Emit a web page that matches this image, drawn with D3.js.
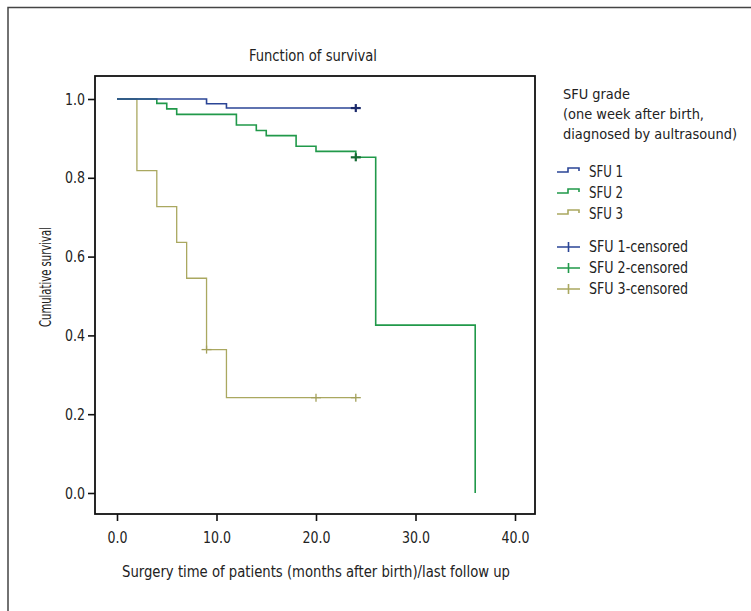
<!DOCTYPE html>
<html>
<head>
<meta charset="utf-8">
<script src="https://cdn.jsdelivr.net/npm/d3@7"></script>
<style>
  body { margin: 0; background: #fff; }
  svg text { font-family: "DejaVu Sans Condensed", "Liberation Sans Narrow", sans-serif; fill: #222; }
  .tick text { font-size: 16px; }
  .tick line { stroke: #111; stroke-width: 1.6; }
</style>
</head>
<body>
<svg id="chart" width="751" height="611"></svg>
<script>
// Kaplan-Meier steps: time (months) and cumulative survival after each step
const SFU1_T = [0, 9, 11, 24];
const SFU1_S = [1.0, 0.988, 0.977, 0.977];
const SFU2_T = [0, 4, 5, 6, 12, 14, 15, 18, 20, 24, 26, 36];
const SFU2_S = [1.0, 0.989, 0.975, 0.961, 0.934, 0.920, 0.907, 0.880, 0.867, 0.852, 0.426, 0.0];
const SFU3_T = [0, 2, 4, 6, 7, 9, 11, 24];
const SFU3_S = [1.0, 0.818, 0.727, 0.636, 0.545, 0.364, 0.242, 0.242];

// censored observations
const SFU1_CENS = [[24, 0.977]];
const SFU2_CENS = [[24, 0.852]];
const SFU3_CENS = [[9, 0.364], [20, 0.242], [24, 0.242]];

const X_TICKS = [0, 10, 20, 30, 40];
const Y_TICKS = [0, 0.2, 0.4, 0.6, 0.8, 1.0];

const GROUPS = ["SFU 1", "SFU 2", "SFU 3"];
const LINE_COLORS = ["#2b4596", "#21994a", "#aaa860"];
const CENS_COLORS = ["#1b2a6b", "#146a32", "#a3a05a"];

const BOX = {left: 95, top: 76, right: 535, bottom: 514};

let svg = d3.select("#chart");

let x = d3.scaleLinear().domain([0, 40]).range([117, 515]);
let y = d3.scaleLinear().domain([0, 1]).range([493, 99]);

// the original uses a tall condensed face: squeeze glyphs to the measured widths
const squeeze = (sel, w) => sel.attr("textLength", w).attr("lengthAdjust", "spacingAndGlyphs");

// outer frame (cropped figure border)
svg.append("path")
   .attr("d", "M8,611 V7.5 H751")
   .attr("fill", "none")
   .attr("stroke", "#444")
   .attr("stroke-width", 1.5);

// plot box
svg.append("rect")
   .attr("x", BOX.left)
   .attr("y", BOX.top)
   .attr("width", BOX.right - BOX.left)
   .attr("height", BOX.bottom - BOX.top)
   .attr("fill", "none")
   .attr("stroke", "#111")
   .attr("stroke-width", 1.8);

// axes
let yAxis = svg.append("g")
   .attr("transform", `translate(${BOX.left},0)`)
   .call(d3.axisLeft(y).tickValues(Y_TICKS).tickSize(7).tickPadding(3).tickFormat(d3.format(".1f")));
yAxis.select(".domain").remove();
yAxis.selectAll(".tick text").each(function() { squeeze(d3.select(this), 20); });

let xAxis = svg.append("g")
   .attr("transform", `translate(0,${BOX.bottom})`)
   .call(d3.axisBottom(x).tickValues(X_TICKS).tickSize(7).tickPadding(11).tickFormat(d3.format(".1f")));
xAxis.select(".domain").remove();
xAxis.selectAll(".tick text").each(function(d) { squeeze(d3.select(this), d == 0 ? 20 : 28); });

// titles
svg.append("text")
   .attr("x", 313).attr("y", 61)
   .attr("text-anchor", "middle")
   .style("font-size", "16px")
   .call(squeeze, 128)
   .text("Function of survival");

svg.append("text")
   .attr("x", 316).attr("y", 577)
   .attr("text-anchor", "middle")
   .style("font-size", "16px")
   .call(squeeze, 388)
   .text("Surgery time of patients (months after birth)/last follow up");

svg.append("text")
   .attr("transform", "translate(51,277) rotate(-90)")
   .attr("text-anchor", "middle")
   .style("font-size", "15px")
   .call(squeeze, 100)
   .text("Cumulative survival");

// survival curves
const stepLine = d3.line()
   .x(d => x(d[0]))
   .y(d => y(d[1]))
   .curve(d3.curveStepAfter);

const SERIES = [
  {t: SFU1_T, s: SFU1_S, cens: SFU1_CENS, width: 1.6},
  {t: SFU2_T, s: SFU2_S, cens: SFU2_CENS, width: 1.6},
  {t: SFU3_T, s: SFU3_S, cens: SFU3_CENS, width: 1.3}
];

// draw SFU3 first, then SFU2, then SFU1 on top
[2, 1, 0].forEach(i => {
  let ser = SERIES[i];
  let pts = ser.t.map((t, j) => [t, ser.s[j]]);
  svg.append("path")
     .attr("d", stepLine(pts))
     .attr("fill", "none")
     .attr("stroke", LINE_COLORS[i])
     .attr("stroke-width", ser.width);
});

[2, 1, 0].forEach(i => {
  let ser = SERIES[i];
  let g = svg.append("g")
             .attr("stroke", CENS_COLORS[i])
             .attr("stroke-width", i == 2 ? 1.3 : 2.2);
  ser.cens.forEach(c => {
    let cx = x(c[0]), cy = y(c[1]);
    g.append("line").attr("x1", cx - 5).attr("x2", cx + 5).attr("y1", cy).attr("y2", cy);
    g.append("line").attr("x1", cx).attr("x2", cx).attr("y1", cy - 4).attr("y2", cy + 4);
  });
});

// legend
const LEG_X = 557;
const LEG_TEXT_X = 589;
const legendHead = ["SFU grade", "(one week after birth,", "diagnosed by aultrasound)"];
const legendHeadW = [67, 141, 174];

svg.append("g").selectAll("text")
   .data(legendHead).enter()
   .append("text")
   .attr("x", 563)
   .attr("y", (d, i) => 99 + i * 20)
   .style("font-size", "14.3px")
   .attr("textLength", (d, i) => legendHeadW[i])
   .attr("lengthAdjust", "spacingAndGlyphs")
   .text(d => d);

let lineItems = svg.append("g").selectAll("g")
   .data(GROUPS).enter()
   .append("g")
   .attr("transform", (d, i) => `translate(0,${177 + i * 21})`);

lineItems.append("path")
   .attr("d", `M${LEG_X},-5 H${LEG_X + 11} V-9 H${LEG_X + 22} V-6`)
   .attr("fill", "none")
   .attr("stroke", (d, i) => LINE_COLORS[i])
   .attr("stroke-width", 1.6);

lineItems.append("text")
   .attr("x", LEG_TEXT_X)
   .attr("y", 0)
   .style("font-size", "16px")
   .call(squeeze, 34)
   .text(d => d);

let censItems = svg.append("g").selectAll("g")
   .data(GROUPS).enter()
   .append("g")
   .attr("transform", (d, i) => `translate(0,${252 + i * 21})`);

censItems.append("path")
   .attr("d", `M${LEG_X},-5 H${LEG_X + 23} M${LEG_X + 11.5},-10 V0`)
   .attr("fill", "none")
   .attr("stroke", (d, i) => LINE_COLORS[i])
   .attr("stroke-width", 1.6);

censItems.append("text")
   .attr("x", LEG_TEXT_X)
   .attr("y", 0)
   .style("font-size", "16px")
   .call(squeeze, 99)
   .text(d => d + "-censored");
</script>
</body>
</html>
